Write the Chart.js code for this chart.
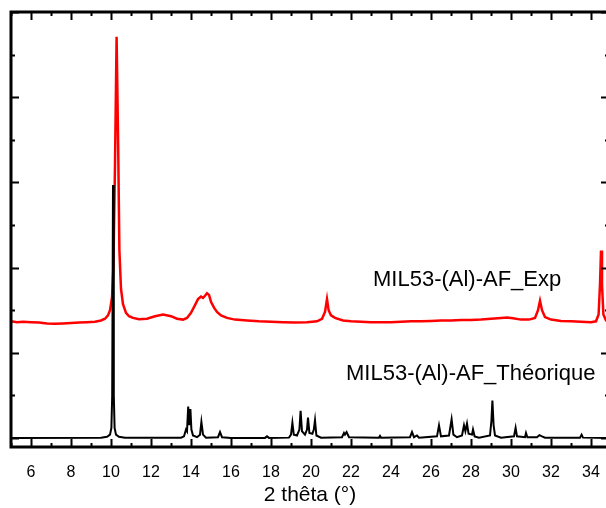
<!DOCTYPE html>
<html>
<head>
<meta charset="utf-8">
<script src="https://cdn.jsdelivr.net/npm/chart.js@4"></script>
<style>
  body { margin: 0; overflow: hidden; background: #fff; }
</style>
</head>
<body>
<canvas id="xrd" width="620" height="508"></canvas>
<script>
// 2 theta (deg), intensity (offset, arbitrary units)
const theoPoints = [
  [5, 0], [9.5, 0.004], [9.8, 0.015], [9.95, 0.04], [10.02, 0.12], [10.06, 0.5], [10.1, 2.97],
  [10.14, 0.5], [10.18, 0.12], [10.25, 0.04], [10.4, 0.015], [10.7, 0.004], [13.5, 0.004],
  [13.65, 0.02], [13.75, 0.1], [13.8, 0.08], [13.86, 0.37], [13.92, 0.15], [13.97, 0.34],
  [14.02, 0.1], [14.1, 0.03], [14.3, 0.01], [14.45, 0.04], [14.52, 0.19], [14.6, 0.04],
  [14.75, 0.005], [15.35, 0.01], [15.45, 0.07], [15.55, 0.01], [16, 0.002], [17.7, 0.002],
  [17.8, 0.02], [17.9, 0.002], [18.9, 0.005], [19.0, 0.04], [19.07, 0.18], [19.14, 0.04],
  [19.3, 0.03], [19.42, 0.1], [19.48, 0.32], [19.55, 0.08], [19.7, 0.04], [19.8, 0.1],
  [19.85, 0.24], [19.92, 0.06], [20.07, 0.05], [20.14, 0.1], [20.2, 0.21], [20.27, 0.03],
  [20.5, 0.005], [21.55, 0.01], [21.65, 0.06], [21.7, 0.04], [21.78, 0.07], [21.9, 0.01],
  [23.4, 0.005], [23.45, 0.025], [23.5, 0.005], [24.95, 0.01], [25.05, 0.07], [25.15, 0.01],
  [25.3, 0.03], [25.4, 0.005], [26.3, 0.02], [26.4, 0.15], [26.5, 0.02], [26.9, 0.03],
  [27.03, 0.22], [27.12, 0.04], [27.3, 0.01], [27.55, 0.03], [27.65, 0.15], [27.72, 0.08],
  [27.8, 0.17], [27.88, 0.05], [28.05, 0.04], [28.1, 0.1], [28.18, 0.02], [28.4, 0.005],
  [28.95, 0.03], [29.02, 0.2], [29.07, 0.44], [29.13, 0.15], [29.2, 0.03], [29.5, 0.005],
  [30.15, 0.02], [30.23, 0.12], [30.3, 0.02], [30.7, 0.01], [30.75, 0.06], [30.82, 0.01],
  [31.3, 0.01], [31.42, 0.035], [31.55, 0.02], [31.7, 0.005], [33.45, 0.005], [33.53, 0.04],
  [33.6, 0.005], [34.9, 0]
];

const expPoints = [
  [5, 1.37], [5.3, 1.36], [5.6, 1.365], [6, 1.36], [6.4, 1.355], [6.8, 1.345], [7.2, 1.34],
  [7.6, 1.345], [8, 1.35], [8.4, 1.355], [8.8, 1.36], [9.2, 1.365], [9.5, 1.38], [9.7, 1.4],
  [9.85, 1.44], [9.95, 1.5], [10.05, 1.65], [10.12, 2.0], [10.2, 3.2], [10.28, 4.71],
  [10.36, 3.4], [10.42, 2.2], [10.5, 1.75], [10.6, 1.57], [10.75, 1.47], [10.9, 1.43],
  [11.1, 1.41], [11.4, 1.395], [11.8, 1.4], [12.2, 1.43], [12.6, 1.45], [13, 1.43],
  [13.3, 1.4], [13.6, 1.39], [13.8, 1.41], [14.0, 1.47], [14.2, 1.56], [14.35, 1.63],
  [14.5, 1.66], [14.6, 1.645], [14.7, 1.67], [14.8, 1.70], [14.9, 1.68], [15.0, 1.6],
  [15.15, 1.53], [15.3, 1.48], [15.5, 1.44], [15.8, 1.41], [16.2, 1.39], [16.8, 1.38],
  [17.4, 1.37], [18, 1.365], [18.6, 1.36], [19.2, 1.355], [19.8, 1.36], [20.3, 1.37],
  [20.55, 1.4], [20.7, 1.48], [20.8, 1.63], [20.88, 1.5], [21.0, 1.44], [21.2, 1.41],
  [21.6, 1.38], [22, 1.37], [22.5, 1.365], [23, 1.36], [23.5, 1.36], [24, 1.36],
  [24.5, 1.365], [25, 1.37], [25.5, 1.37], [26, 1.375], [26.5, 1.38], [27, 1.38],
  [27.5, 1.385], [28, 1.385], [28.5, 1.39], [29, 1.4], [29.5, 1.41], [29.8, 1.415],
  [30.1, 1.405], [30.5, 1.39], [30.9, 1.39], [31.2, 1.41], [31.35, 1.5], [31.45, 1.61],
  [31.55, 1.5], [31.7, 1.42], [32, 1.39], [32.5, 1.375], [33, 1.37], [33.5, 1.365],
  [34, 1.36], [34.25, 1.37], [34.38, 1.45], [34.45, 1.8], [34.5, 2.2], [34.55, 1.8],
  [34.62, 1.45], [34.75, 1.38], [34.9, 1.37]
];

const xMajorTicks = [6, 8, 10, 12, 14, 16, 18, 20, 22, 24, 26, 28, 30, 32, 34];
const xMinorTicks = [5, 7, 9, 11, 13, 15, 17, 19, 21, 23, 25, 27, 29, 31, 33];
const yMajorTicks = [0, 1, 2, 3, 4, 5];
const yMinorTicks = [0.5, 1.5, 2.5, 3.5, 4.5];

const seriesNames = ["MIL53-(Al)-AF_Exp", "MIL53-(Al)-AF_Théorique"];

const FONT = "'Liberation Sans', Arial, sans-serif";

// frame with inward ticks on all four sides + curve labels
const framePlugin = {
  id: "frame",
  afterDraw(chart) {
    const { ctx, chartArea: a, scales } = chart;
    const xs = scales.x, ys = scales.y;
    ctx.save();
    ctx.strokeStyle = "#000";
    ctx.lineWidth = 2;
    ctx.beginPath();
    xMajorTicks.concat(xMinorTicks).forEach(v => {
      const len = xMajorTicks.includes(v) ? 8 : 4;
      const px = Math.round(xs.getPixelForValue(v)) + 0.5;
      ctx.moveTo(px, a.bottom); ctx.lineTo(px, a.bottom - len);
      ctx.moveTo(px, a.top); ctx.lineTo(px, a.top + len);
    });
    yMajorTicks.concat(yMinorTicks).forEach(v => {
      const len = yMajorTicks.includes(v) ? 8 : 4;
      const py = Math.round(ys.getPixelForValue(v)) + 0.5;
      ctx.moveTo(a.left, py); ctx.lineTo(a.left + len, py);
      ctx.moveTo(a.right, py); ctx.lineTo(a.right - len, py);
    });
    ctx.stroke();
    ctx.lineWidth = 3;
    ctx.strokeRect(a.left, a.top, a.right - a.left, a.bottom - a.top);

    ctx.fillStyle = "#000";
    ctx.font = "22px " + FONT;
    ctx.textBaseline = "alphabetic";
    ctx.fillText(seriesNames[0], xs.getPixelForValue(23.1), ys.getPixelForValue(1.79));
    ctx.fillText(seriesNames[1], xs.getPixelForValue(21.75), ys.getPixelForValue(0.68));
    ctx.restore();
  }
};

new Chart(document.getElementById("xrd"), {
  type: "scatter",
  data: {
    datasets: [
      {
        label: seriesNames[1],
        data: theoPoints.map(p => ({ x: p[0], y: p[1] })),
        showLine: true,
        borderColor: "#000",
        borderWidth: 2,
        pointRadius: 0,
      },
      {
        label: seriesNames[0],
        data: expPoints.map(p => ({ x: p[0], y: p[1] })),
        showLine: true,
        borderColor: "#ff0000",
        borderWidth: 2.5,
        pointRadius: 0,
      },
    ],
  },
  options: {
    responsive: false,
    animation: false,
    devicePixelRatio: 1,
    layout: { padding: { top: 12, right: 11, left: 0, bottom: 0 } },
    plugins: { legend: { display: false }, tooltip: { enabled: false } },
    scales: {
      x: {
        type: "linear",
        min: 5,
        max: 34.9,
        afterBuildTicks: s => { s.ticks = xMajorTicks.map(v => ({ value: v })); },
        afterFit: s => { s.height = 61; },
        grid: { display: false, drawTicks: false },
        border: { display: false },
        ticks: { color: "#000", padding: 16, maxRotation: 0, autoSkip: false, font: { family: FONT, size: 16 } },
        title: {
          display: true,
          text: "2 thêta (°)",
          color: "#000",
          padding: { top: 0, bottom: 0 },
          font: { family: FONT, size: 21 },
        },
      },
      y: {
        min: -0.105,
        max: 5,
        afterFit: s => { s.width = 11; },
        grid: { display: false, drawTicks: false },
        border: { display: false },
        ticks: { display: false },
      },
    },
  },
  plugins: [framePlugin],
});
</script>
</body>
</html>
